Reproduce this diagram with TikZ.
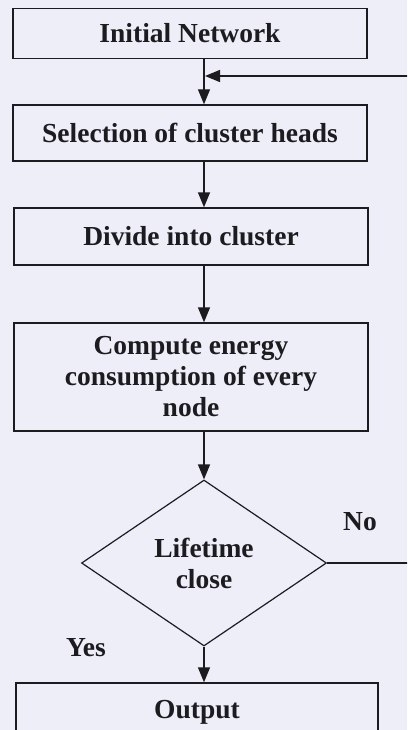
\documentclass[tikz,border=0pt]{standalone}
\usepackage{fontspec}
\setmainfont{Liberation Serif}
\usetikzlibrary{shapes.geometric,arrows.meta}
\definecolor{bg}{RGB}{237,238,247}
\definecolor{ink}{RGB}{28,28,32}
\begin{document}
\begin{tikzpicture}[x=1pt,y=-1pt,
  every node/.style={font=\fontsize{27.5}{31}\selectfont\bfseries, text=ink},
  box/.style={draw=ink, line width=1.4pt, rectangle, minimum width=354pt, inner sep=0pt, align=center},
  dia/.style={draw=ink, line width=1.2pt, diamond, shape aspect=1.47, minimum width=245pt, minimum height=166pt, inner sep=0pt, align=center},
  lbl/.style={inner sep=0pt},
  conn/.style={draw=ink, line width=1.4pt},
  arr/.style={conn, -{Triangle[width=12pt,length=15pt]}}]
\useasboundingbox (0,0) rectangle (407,730);
\fill[bg] (0,0) rectangle (407,730);
\clip (0,0) rectangle (407,730);
\node[box, minimum height=50pt] (b1) at (190,33.5) {Initial Network};
\node[box, minimum height=56pt] (b2) at (190,133) {Selection of cluster heads};
\node[box, minimum height=57pt] (b3) at (191,236.5) {Divide into cluster};
\node[box, minimum height=108pt] (b4) at (191,377) {Compute energy\\consumption of every\\node};
\node[dia] (d) at (204,563) {Lifetime\\close};
\node[box, minimum width=362pt, minimum height=60pt] (out) at (197,713) {};
\node[lbl, anchor=base] (outt) at (197,718) {Output};
\node[lbl] (no) at (360,522) {No};
\node[lbl] (yes) at (86,648) {Yes};
\coordinate (tx) at (204,0);
\coordinate (j) at (205,76);
\coordinate (fr) at (420,76);
\draw[arr] (b1.south -| tx) -- (b2.north -| tx);
\draw[arr] (b2.south -| tx) -- (b3.north -| tx);
\draw[arr] (b3.south -| tx) -- (b4.north -| tx);
\draw[arr] (b4.south -| tx) -- (d.north);
\draw[arr] (d.south) -- (out.north -| d.south);
\draw[arr] (d.east) -- (d.east -| fr) -- (fr) -- (j);
\end{tikzpicture}
\end{document}
